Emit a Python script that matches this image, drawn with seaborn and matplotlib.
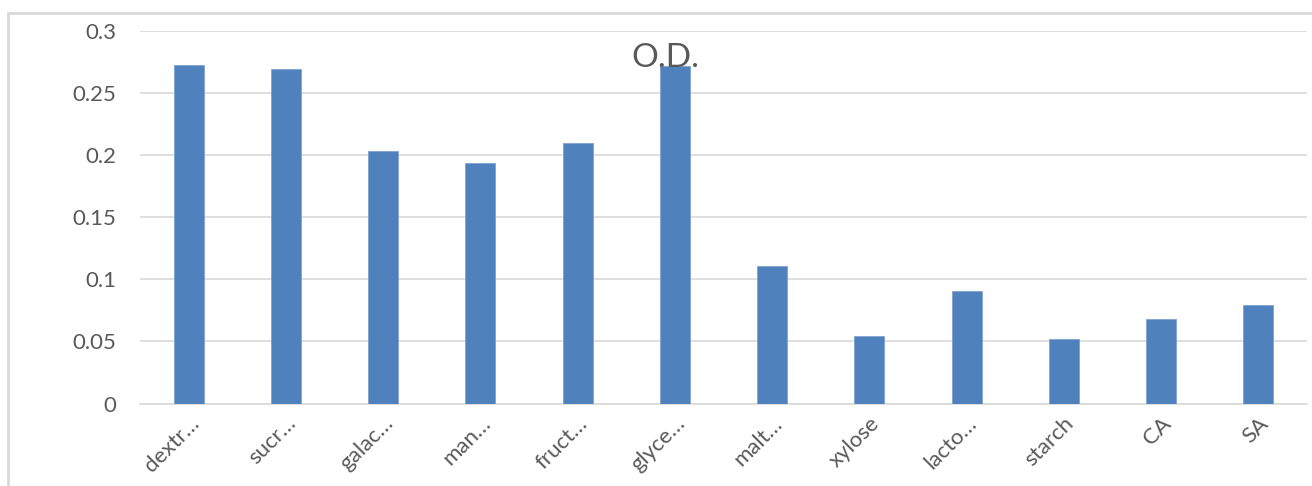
import matplotlib
matplotlib.use("Agg")
import matplotlib.pyplot as plt
import seaborn as sns
import pandas as pd
from matplotlib.patches import Rectangle

categories = ["dextr…", "sucr…", "galac…", "man…", "fruct…", "glyce…",
              "malt…", "xylose", "lacto…", "starch", "CA", "SA"]
od_values = [0.273, 0.269, 0.203, 0.194, 0.210, 0.272,
             0.111, 0.054, 0.091, 0.052, 0.068, 0.079]
y_ticks = [0, 0.05, 0.1, 0.15, 0.2, 0.25, 0.3]
y_tick_labels = ["0", "0.05", "0.1", "0.15", "0.2", "0.25", "0.3"]

df = pd.DataFrame({"cat": categories, "od": od_values})

sns.set_theme(style="white")
plt.rcParams["font.family"] = ["Lato", "DejaVu Sans"]

W, H = 1312, 486
fig = plt.figure(figsize=(W / 100, H / 100), dpi=100)
ax = fig.add_axes([140 / W, 1 - 403.5 / H, (1307 - 140) / W, (403.5 - 31) / H])

sns.barplot(data=df, x="cat", y="od", color="#4F81BD", width=0.31,
            saturation=1, edgecolor="#7FA3D1", linewidth=0.6, ax=ax, zorder=3)

ax.set_ylim(0, 0.3)
ax.set_xlim(-0.5, len(categories) - 0.5)
ax.set_yticks(y_ticks)
ax.set_yticklabels(y_tick_labels)
ax.yaxis.grid(True, color="#D9D9D9", linewidth=1.2, zorder=0)
ax.set_axisbelow(True)
for s in ["left", "right", "top"]:
    ax.spines[s].set_visible(False)
ax.spines["bottom"].set_color("#D9D9D9")
ax.spines["bottom"].set_linewidth(1.2)
ax.set_xlabel("")
ax.set_ylabel("")
ax.tick_params(axis="y", length=0, pad=17, labelsize=16, labelcolor="#595959")
ax.tick_params(axis="x", length=0, pad=7, labelsize=16, labelcolor="#595959")
for lbl in ax.get_xticklabels():
    lbl.set_rotation(45)
    lbl.set_ha("right")
    lbl.set_rotation_mode("anchor")

fig.text(665 / W, 1 - 58 / H, "O.D.", ha="center", va="center",
         fontsize=24, color="#595959")

fig.patches.append(Rectangle((8 / W, -0.1), 1.2, 1 - 13 / H + 0.1,
                             transform=fig.transFigure, fill=False,
                             edgecolor="#D9D9D9", linewidth=2, zorder=0))

fig.savefig("out.png", dpi=100)
